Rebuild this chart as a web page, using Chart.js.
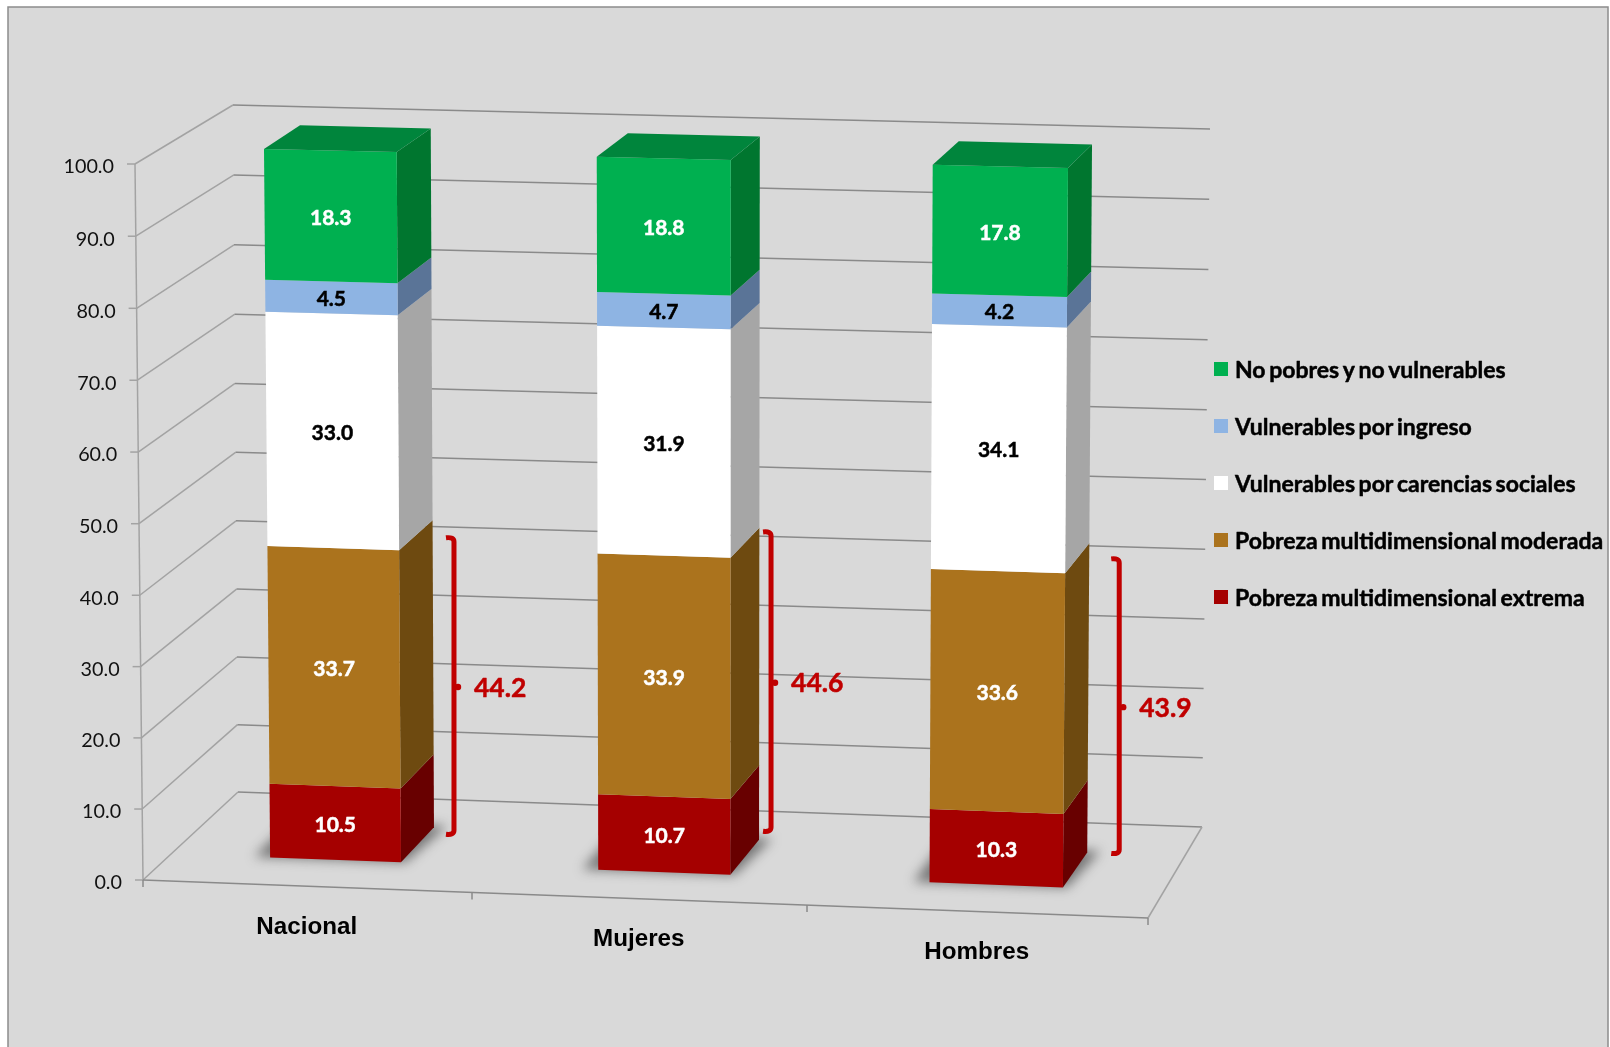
<!DOCTYPE html>
<html>
<head>
<meta charset="utf-8">
<title>Pobreza multidimensional</title>
<script src="https://cdn.jsdelivr.net/npm/chart.js@4"></script>
<style>
    html, body { margin: 0; padding: 0; background: #fff; overflow: hidden; }
    canvas { display: block; }
</style>
</head>
<body>
<canvas id="myChart" width="1610" height="1047"></canvas>
<script>
const categorias = ['Nacional', 'Mujeres', 'Hombres'];
const extrema = [10.5, 10.7, 10.3];
const moderada = [33.7, 33.9, 33.6];
const carencias = [33.0, 31.9, 34.1];
const ingreso = [4.5, 4.7, 4.2];
const noPobres = [18.3, 18.8, 17.8];
const pobreza = [44.2, 44.6, 43.9];

// the Excel 3D look: page position of the box corners, plus a small perspective bend
const stage = {
    floor: { fl: [143, 880], fr: [1148, 918], bl: [238, 792], br: [1202, 827] },
    roof: { fl: [135, 164], fr: [1140, 187], bl: [233, 105], br: [1210, 129] },
    bendU: 0.0067, bendFront: 0.0024, bendBack: 0.0055, bendFade: 0.6
};
const barBox = {
    floor: { fl: [172.3, 853.7], fr: [1163.3, 891.2], bl: [208.3, 818.7], br: [1186.3, 856.2] },
    roof: { fl: [164.8, 146.6], fr: [1169.8, 170.4], bl: [202.3, 122.9], br: [1192.3, 146.9] },
    bendU: 0.0036, bendFront: 0.0025, bendBack: 0.0025, bendFade: 0
};

const labelFont = 'bold 21px Lato';
const legendFont = 'bold 23px Lato';

function corner(rect, u, w) {
    return [0, 1].map(i =>
        rect.fl[i] * (1 - u) * (1 - w) + rect.fr[i] * u * (1 - w) +
        rect.bl[i] * (1 - u) * w + rect.br[i] * u * w);
}

// chart pixel + depth -> page position
function project(chart, box, px, py, w) {
    const area = chart.chartArea;
    const u0 = (px - area.left) / area.width;
    const v0 = (area.bottom - py) / area.height;
    const u = u0 - box.bendU * 4 * u0 * (1 - u0);
    const bend = (box.bendFront + (box.bendBack - box.bendFront) * w) * (1 - box.bendFade * u0);
    const v = v0 - bend * 4 * v0 * (1 - v0);
    const a = corner(box.floor, u, w);
    const b = corner(box.roof, u, w);
    return [a[0] + (b[0] - a[0]) * v, a[1] + (b[1] - a[1]) * v];
}

function line(ctx, a, b) {
    ctx.beginPath();
    ctx.moveTo(a[0], a[1]);
    ctx.lineTo(b[0], b[1]);
    ctx.stroke();
}

function quad(ctx, pts, color) {
    ctx.fillStyle = color;
    ctx.beginPath();
    pts.forEach((p, i) => i ? ctx.lineTo(p[0], p[1]) : ctx.moveTo(p[0], p[1]));
    ctx.closePath();
    ctx.fill();
}

function heavyText(ctx, text, x, y) {
    ctx.lineWidth = 0.5;
    ctx.strokeStyle = ctx.fillStyle;
    ctx.strokeText(text, x, y);
    ctx.fillText(text, x, y);
}

function drawWalls(chart) {
    const ctx = chart.ctx;
    const { left, right, top, bottom } = chart.chartArea;
    const yScale = chart.scales.y;
    ctx.lineWidth = 1.5;
    yScale.ticks.forEach((tick, i) => {
        const y = yScale.getPixelForTick(i);
        const front = project(chart, stage, left, y, 0);
        const back = project(chart, stage, left, y, 1);
        ctx.strokeStyle = '#a3a3a3';
        line(ctx, front, back);
        line(ctx, front, [front[0] - 8, front[1]]);
        ctx.strokeStyle = '#8a8a8a';
        line(ctx, back, project(chart, stage, right, y, 1));
        ctx.fillStyle = '#111';
        ctx.font = '19.8px Lato';
        ctx.textAlign = 'right';
        ctx.textBaseline = 'middle';
        ctx.fillText(tick.label, front[0] - 21, front[1] + 3);
    });
    ctx.strokeStyle = '#a3a3a3';
    line(ctx, project(chart, stage, left, top, 0), project(chart, stage, left, bottom, 0));
    line(ctx, project(chart, stage, right, bottom, 0), project(chart, stage, right, bottom, 1));
    ctx.strokeStyle = '#8a8a8a';
    line(ctx, project(chart, stage, left, bottom, 0), project(chart, stage, right, bottom, 0));
    const xScale = chart.scales.x;
    const step = chart.chartArea.width / categorias.length;
    for (let i = 0; i <= categorias.length; i++) {
        const p = project(chart, stage, left + step * i, bottom, 0);
        line(ctx, p, [p[0], p[1] + 7]);
    }
    ctx.fillStyle = '#000';
    ctx.font = 'bold 24.2px "Liberation Sans"';
    ctx.textAlign = 'center';
    categorias.forEach((name, i) => {
        const p = project(chart, stage, xScale.getPixelForValue(i), bottom, 0);
        ctx.fillText(name, p[0], p[1] + 41);
    });
}

function drawShadows(chart) {
    const ctx = chart.ctx;
    const bottom = chart.chartArea.bottom;
    chart.getDatasetMeta(0).data.forEach(bar => {
        const l = bar.x - bar.width / 2;
        const r = bar.x + bar.width / 2;
        ctx.save();
        ctx.filter = 'blur(6px)';
        quad(ctx, [
            project(chart, barBox, l - 16, bottom, 0),
            project(chart, barBox, r + 4, bottom, 0),
            project(chart, barBox, r + 12, bottom, 1.05),
            project(chart, barBox, l - 16, bottom, 1.05)
        ], 'rgba(50,50,50,0.6)');
        ctx.restore();
    });
}

function drawBars(chart) {
    const ctx = chart.ctx;
    chart.data.datasets.forEach((ds, d) => {
        chart.getDatasetMeta(d).data.forEach(bar => {
            const l = bar.x - bar.width / 2;
            const r = bar.x + bar.width / 2;
            quad(ctx, [
                project(chart, barBox, r, bar.y, 0),
                project(chart, barBox, r, bar.y, 1),
                project(chart, barBox, r, bar.base, 1),
                project(chart, barBox, r, bar.base, 0)
            ], ds.sideColor);
            quad(ctx, [
                project(chart, barBox, l, bar.y, 0),
                project(chart, barBox, r, bar.y, 0),
                project(chart, barBox, r, bar.base, 0),
                project(chart, barBox, l, bar.base, 0)
            ], ds.backgroundColor);
            if (d === chart.data.datasets.length - 1) {
                quad(ctx, [
                    project(chart, barBox, l, bar.y, 0),
                    project(chart, barBox, l, bar.y, 1),
                    project(chart, barBox, r, bar.y, 1),
                    project(chart, barBox, r, bar.y, 0)
                ], ds.topColor);
            }
        });
    });
}

function drawValues(chart) {
    const ctx = chart.ctx;
    ctx.font = labelFont;
    ctx.textAlign = 'center';
    ctx.textBaseline = 'middle';
    chart.data.datasets.forEach((ds, d) => {
        chart.getDatasetMeta(d).data.forEach((bar, i) => {
            const p = project(chart, barBox, bar.x, (bar.y + bar.base) / 2, 0);
            ctx.fillStyle = ds.labelColor;
            heavyText(ctx, ds.data[i].toFixed(1), p[0], p[1] + 2);
        });
    });
}

function drawBrackets(chart) {
    const ctx = chart.ctx;
    const meta = chart.getDatasetMeta(0);
    const offsetX = [20, 12, 32];
    const offsetY = [9, -6.5, 3];
    const perUnit = 6.8;
    pobreza.forEach((value, i) => {
        const bar = meta.data[i];
        const c = project(chart, barBox, bar.x + bar.width / 2, bar.base, 1);
        const x = c[0] + offsetX[i];
        const y1 = c[1] + offsetY[i];
        const y0 = y1 - value * perUnit;
        const mid = y1 - value * perUnit / 2;
        ctx.strokeStyle = '#c00000';
        ctx.fillStyle = '#c00000';
        ctx.lineWidth = 5;
        ctx.lineJoin = 'round';
        ctx.lineCap = 'butt';
        ctx.beginPath();
        ctx.moveTo(x - 8, y0 + 2);
        ctx.quadraticCurveTo(x, y0 + 1, x, y0 + 6);
        ctx.lineTo(x, y1 - 6);
        ctx.quadraticCurveTo(x, y1 - 1, x - 8, y1 - 2);
        ctx.stroke();
        ctx.beginPath();
        ctx.arc(x + 4, mid + 1, 3.2, 0, Math.PI * 2);
        ctx.fill();
        ctx.font = 'bold 26.5px Lato';
        ctx.textAlign = 'left';
        ctx.textBaseline = 'middle';
        heavyText(ctx, value.toFixed(1), x + 20, mid + 2);
    });
}

function drawLegend(chart) {
    const ctx = chart.ctx;
    const items = chart.data.datasets.slice().reverse();
    ctx.font = legendFont;
    ctx.wordSpacing = '-2px';
    ctx.textAlign = 'left';
    ctx.textBaseline = 'middle';
    items.forEach((ds, i) => {
        const y = 369 + i * 57;
        ctx.fillStyle = ds.backgroundColor;
        ctx.fillRect(1214, y - 7, 14, 14);
        ctx.fillStyle = '#000';
        heavyText(ctx, ds.label, 1235, y + 2);
    });
    ctx.wordSpacing = '0px';
}

const scene = {
    id: 'scene',
    beforeDraw(chart) {
        const ctx = chart.ctx;
        ctx.fillStyle = '#fff';
        ctx.fillRect(0, 0, 1610, 1047);
        ctx.fillStyle = '#d9d9d9';
        ctx.strokeStyle = '#8c8c8c';
        ctx.lineWidth = 1.5;
        ctx.fillRect(8, 7, 1600, 1045);
        ctx.strokeRect(8, 7, 1600, 1045);
    },
    beforeDatasetsDraw(chart) {
        drawWalls(chart);
        drawShadows(chart);
        drawBars(chart);
        drawValues(chart);
        drawBrackets(chart);
        drawLegend(chart);
        return false;
    }
};

new Chart(document.getElementById('myChart').getContext('2d'), {
    type: 'bar',
    data: {
        labels: categorias,
        datasets: [
            { label: 'Pobreza multidimensional extrema', data: extrema, backgroundColor: '#a50000', sideColor: '#680000', labelColor: '#fff' },
            { label: 'Pobreza multidimensional moderada', data: moderada, backgroundColor: '#ab731d', sideColor: '#6e4a10', labelColor: '#fff' },
            { label: 'Vulnerables por carencias sociales', data: carencias, backgroundColor: '#ffffff', sideColor: '#a6a6a6', labelColor: '#000' },
            { label: 'Vulnerables por ingreso', data: ingreso, backgroundColor: '#8eb4e3', sideColor: '#5a7497', labelColor: '#000' },
            { label: 'No pobres y no vulnerables', data: noPobres, backgroundColor: '#00b050', sideColor: '#00762f', topColor: '#00853c', labelColor: '#fff' }
        ]
    },
    options: {
        responsive: false,
        animation: false,
        barPercentage: 0.4,
        categoryPercentage: 1,
        layout: { padding: { left: 143, right: 462, top: 164, bottom: 167 } },
        plugins: { legend: { display: false }, tooltip: { enabled: false } },
        scales: {
            x: { stacked: true, display: false },
            y: {
                stacked: true,
                display: false,
                min: 0,
                max: 100,
                ticks: { stepSize: 10, callback: v => v.toFixed(1) }
            }
        }
    },
    plugins: [scene]
});
</script>
</body>
</html>
